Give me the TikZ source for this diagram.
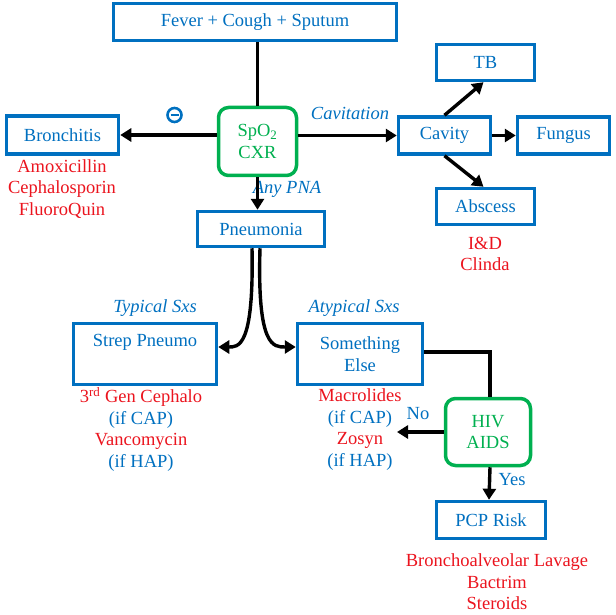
\documentclass[tikz,border=0pt]{standalone}
\usepackage{fontspec}
\setmainfont{Liberation Serif}
\usetikzlibrary{arrows.meta}
\definecolor{myblue}{RGB}{0,112,192}
\definecolor{mygreen}{RGB}{0,176,80}
\definecolor{myred}{RGB}{235,20,30}
\tikzset{
  bbox/.style={draw=myblue, line width=3.5pt, text=myblue, fill=white, inner sep=2pt, align=center},
  gbox/.style={draw=mygreen, line width=3.5pt, text=mygreen, fill=white, rounded corners=10pt, inner sep=2pt, align=center},
  conn/.style={line width=3.4pt, black},
  arr/.style={conn, -{Triangle[length=11pt,width=13pt]}},
  lbl/.style={text=myblue, font=\fontsize{18.5}{21.5}\selectfont\itshape, inner sep=0pt},
  plain/.style={text=myblue, inner sep=0pt},
  drug/.style={text=myred, align=center, inner sep=0pt},
}
\begin{document}
\begin{tikzpicture}[x=1pt,y=-1pt,font=\fontsize{18.5}{21.5}\selectfont]
\useasboundingbox (0,0) rectangle (616,615);
% boxes
\node[bbox, minimum width=283pt, minimum height=37pt] (fever) at (255,22) {Fever + Cough + Sputum};
\node[gbox, minimum width=78pt, minimum height=68pt] (spo2) at (257.5,141.5) {SpO\textsubscript{2}\\CXR};
\node[bbox, minimum width=112pt, minimum height=38pt] (bron) at (62.5,135) {Bronchitis};
\node[bbox, minimum width=92pt, minimum height=37pt] (cav) at (444.5,135.5) {Cavity};
\node[bbox, minimum width=98pt, minimum height=36pt] (tb) at (485.5,62.5) {TB};
\node[bbox, minimum width=92pt, minimum height=37pt] (fungus) at (563.5,135.5) {Fungus};
\node[bbox, minimum width=98pt, minimum height=36pt] (abscess) at (485.5,206.5) {Abscess};
\node[bbox, minimum width=127pt, minimum height=35pt] (pneu) at (261,229) {Pneumonia};
\node[bbox, minimum width=143pt, minimum height=61pt] (strep) at (145,354) {Strep Pneumo\\\strut};
\node[bbox, minimum width=125pt, minimum height=61pt] (else) at (360,354) {Something\\Else};
\node[gbox, minimum width=85pt, minimum height=67pt] (hiv) at (488,432) {HIV\\AIDS};
\node[bbox, minimum width=109pt, minimum height=37pt] (pcp) at (491,520) {PCP Risk};
% texts
\node[drug] (brondrug) at (62,189) {Amoxicillin\\Cephalosporin\\FluoroQuin};
\node[drug] (absdrug) at (485,254) {I\&D\\Clinda};
\node[drug] (strepdrug) at (141,429.5) {3\textsuperscript{rd} Gen Cephalo\\{\color{myblue}(if CAP)}\\Vancomycin\\{\color{myblue}(if HAP)}};
\node[drug] (elsedrug) at (360,429.5) {Macrolides\\{\color{myblue}(if CAP)}\\Zosyn\\{\color{myblue}(if HAP)}};
\node[drug] (pcpdrug) at (497,582) {Bronchoalveolar Lavage\\Bactrim\\Steroids};
\node[lbl] (cavl) at (350,113) {Cavitation};
\node[lbl] (pnal) at (287,189) {Any PNA};
\node[lbl] (typl) at (155,308) {Typical Sxs};
\node[lbl] (atypl) at (354,308) {Atypical Sxs};
\node[plain] (nol) at (418,414) {No};
\node[plain] (yesl) at (512,480) {Yes};
\node[circle, draw=myblue, line width=2.6pt, minimum size=14pt, inner sep=0pt] (neg) at (174.5,115) {};
\draw[myblue, line width=2.6pt] ([xshift=-4pt]neg.center) -- ([xshift=4pt]neg.center);
% connectors
\draw[conn] (spo2.north |- fever.south) -- (spo2.north);
\draw[arr] (spo2.west |- bron.east) -- (bron.east);
\draw[arr] (spo2.east |- cav.west) -- (cav.west);
\draw[arr] (spo2.south) -- (spo2.south |- pneu.north);
\draw[arr] (cav.north) -- ([xshift=-2pt]tb.south);
\draw[arr] (cav.east) -- (fungus.west);
\draw[arr] (cav.south) -- ([xshift=-2pt]abscess.north);
\draw[arr] ([xshift=-9pt]pneu.south) .. controls +(2,100) and +(20,0) .. ([yshift=7pt]strep.east);
\draw[arr] ([xshift=-1pt]pneu.south) .. controls +(-3,100) and +(-22,0) .. ([yshift=7pt]else.west);
\draw[conn] ([yshift=2pt]else.east) -| ([xshift=2pt]hiv.north);
\coordinate (noend) at (397,432);
\draw[arr] (hiv.west) -- (noend);
\draw[arr] ([xshift=2pt]hiv.south) -- ([xshift=1pt]hiv.south |- pcp.north);
\end{tikzpicture}
\end{document}
